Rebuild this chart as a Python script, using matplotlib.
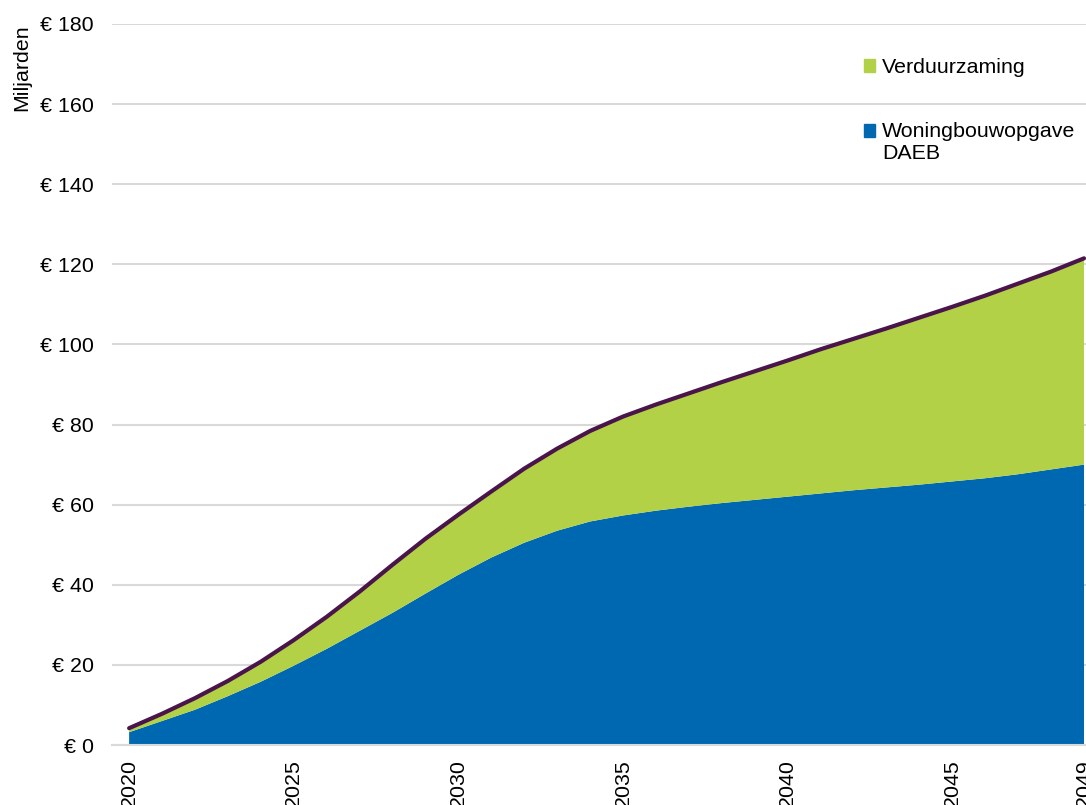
import matplotlib.pyplot as plt
from matplotlib.patches import Patch
import numpy as np

plt.rcParams['font.family'] = ['Liberation Sans', 'DejaVu Sans']

years = list(range(2020, 2050))
daeb = [3.2, 6.0, 8.8, 12.2, 15.8, 19.8, 24.0, 28.5, 33.0, 37.8,
        42.5, 46.8, 50.5, 53.5, 55.8, 57.3, 58.5, 59.5, 60.4, 61.2,
        62.0, 62.8, 63.6, 64.3, 65.0, 65.8, 66.6, 67.6, 68.8, 70.0]
verduurzaming = [1.0, 1.8, 2.9, 3.8, 5.0, 6.4, 8.0, 9.8, 12.0, 13.7,
                 15.0, 16.5, 18.5, 20.5, 22.6, 24.7, 26.5, 28.3, 30.2, 32.1,
                 34.0, 36.0, 37.8, 39.7, 41.7, 43.6, 45.6, 47.6, 49.4, 51.5]
xticks = [2020, 2025, 2030, 2035, 2040, 2045, 2049]
yticks = list(range(0, 181, 20))

blue = '#0068B1'
green = '#B2D146'
purple = '#4A154B'
grid = '#D9D9D9'
fs = 15.4

total = np.array(daeb) + np.array(verduurzaming)

fig = plt.figure(figsize=(10.86, 8.05), dpi=100)
ax = fig.add_axes([112 / 1086, 1 - 745 / 805, 1 - 112 / 1086, (745 - 24) / 805])

ax.stackplot(years, daeb, verduurzaming, colors=[blue, green], linewidth=0)
ax.plot(years, total, color=purple, lw=3, solid_capstyle='round')

ax.set_xlim(2019.48, 2049.06)
ax.set_ylim(0, 180)
ax.set_xticks(xticks)
ax.set_xticklabels([str(t) for t in xticks], rotation=90, fontsize=fs)
ax.set_yticks(yticks)
ax.set_yticklabels([f'€ {v}' for v in yticks], fontsize=fs)
ax.tick_params(axis='both', length=0)
ax.tick_params(axis='x', pad=10)
ax.tick_params(axis='y', pad=13)
ax.grid(axis='y', color=grid, lw=1.5)
ax.set_axisbelow(True)
for side in ['left', 'right', 'top']:
    ax.spines[side].set_visible(False)
ax.spines['bottom'].set_color(grid)
ax.spines['bottom'].set_linewidth(1.5)

fig.text(22 / 1086, 1 - 24 / 805, 'Miljarden', rotation=90, ha='center', va='top', fontsize=fs)

handles = [Patch(color=green), Patch(color=blue)]
leg = ax.legend(handles, ['Verduurzaming', 'Woningbouwopgave\nDAEB'], loc='upper left',
                bbox_to_anchor=(0.752, 0.979), frameon=False, fontsize=fs,
                handlelength=0.55, handleheight=0.55, handletextpad=0.3, labelspacing=2.1)
# square next to the first line of the two-line label
p = leg.get_patches()[1]
p.set_y(p.get_y() + 9)

fig.savefig('out.png', dpi=100)
